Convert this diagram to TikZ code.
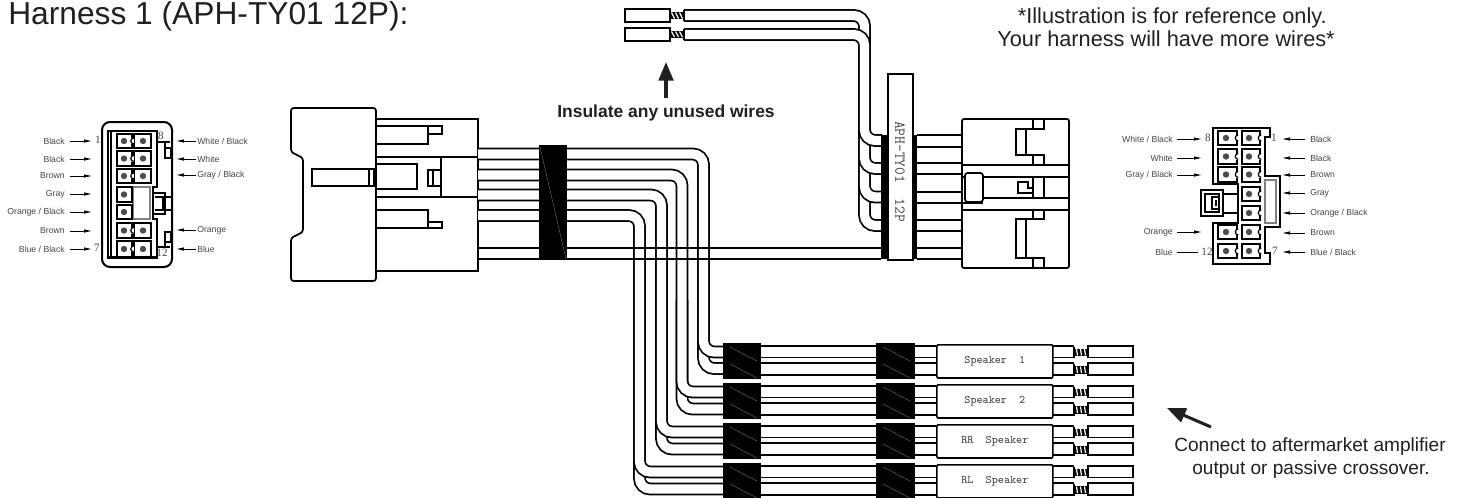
\documentclass[tikz,border=0pt]{standalone}
\usepackage{fontspec}
\setmainfont{Liberation Sans}
\newfontfamily\serifnum{Liberation Serif}
\usetikzlibrary{arrows.meta}
\definecolor{ink}{HTML}{231F20}
\definecolor{soft}{HTML}{444444}
\tikzset{
  ln/.style={line width=1.25pt,draw=black},
  thn/.style={line width=.9pt,draw=black},
  wire/.style={line width=1.3pt,double=white,double distance=6.95pt,rounded corners=8pt,draw=black},
  shrink/.style={fill=black,draw=none},
  seam/.style={line width=.25pt,draw=gray},
  lab/.style={font=\fontsize{6.5}{8}\selectfont,text=soft,inner sep=0pt},
  num/.style={font=\serifnum\fontsize{8.4}{9}\selectfont,text=soft,inner sep=0pt},
  mono/.style={font=\ttfamily\fontsize{8.7}{10}\selectfont,text=soft,inner sep=0pt},
  big/.style={text=ink,inner sep=0pt},
  parr/.style={line width=.55pt,draw=black,-{Latex[length=6pt,width=2.6pt]}},
  bigarr/.style={line width=2.3pt,draw=ink,-{Triangle[length=14pt,width=11pt]}}
}
\newcommand{\pinbox}[4]{\draw[ln,fill=white] (#1,#2) rectangle (#3,#4);}
\newcommand{\pindot}[2]{\fill[black!70] (#1,{#2}) circle (2.4pt);}
\newcommand{\pinnotch}[2]{\fill[white] (#1-1.5,{#2-3}) rectangle (#1+1.5,{#2+3});\draw[thn] (#1+1.2,{#2-3}) arc (90:270:2.2pt and 2.2pt);}
\newcommand{\barestrip}[4]{% x0 ytop ybot slant
  \fill[black] (#1,#2) rectangle (#1+14,#3);
  \foreach \s in {2,6,10}{\draw[line width=.9pt,white] (#1+\s+#4,#2+.5) -- (#1+\s+2-#4,#3-.5);}
  \draw[line width=1.3pt] (#1,#2-2) -- (#1,#3+2) (#1+14,#2-2) -- (#1+14,#3+2);
}
\newcommand{\lableft}[3]{\node[lab,anchor=east] (#1) at (65,#2) {#3};
  \coordinate (#1t) at (92,#2); \draw[parr,shorten <=3.6pt] (#1.east) -- (#1t);}
\newcommand{\labright}[3]{\node[lab,anchor=west] (#1) at (197,#2) {#3};
  \coordinate (#1t) at (176,#2); \draw[parr,shorten <=1pt] (#1.west) -- (#1t);}
\newcommand{\rlableft}[3]{\node[lab,anchor=east] (#1) at (1173,#2) {#3};
  \coordinate (#1t) at (1202,#2); \draw[parr,shorten <=3pt] (#1.east) -- (#1t);}
\newcommand{\rlabright}[3]{\node[lab,anchor=west] (#1) at (1310,#2) {#3};
  \coordinate (#1t) at (1282,#2); \draw[parr,shorten <=3.6pt] (#1.west) -- (#1t);}
\begin{document}
\begin{tikzpicture}[x=.75pt,y=-.75pt]
\useasboundingbox (0,0) rectangle (1461,497);
% ---- texts
\node[big,anchor=base west,font=\fontsize{23.8}{26}\selectfont] (title) at (8,24) {Harness 1 (APH-TY01 12P):};
\node[big,anchor=base east,font=\fontsize{16.3}{18}\selectfont] (note1) at (1327,23) {*Illustration is for reference only.};
\node[big,anchor=base east,font=\fontsize{16.3}{18}\selectfont] (note2) at (1335,46) {Your harness will have more wires*};
\node[big,anchor=base west,font=\bfseries\fontsize{13.1}{15}\selectfont] (insul) at (557,117) {Insulate any unused wires};
\node[big,anchor=base,font=\fontsize{14.3}{16}\selectfont] (conn1) at (1310,451) {Connect to aftermarket amplifier};
\node[big,anchor=base,font=\fontsize{14.3}{16}\selectfont] (conn2) at (1311,474) {output or passive crossover.};
\coordinate (upt) at (666,62); \coordinate (upb) at (666,98);
\draw[bigarr] (upb) -- (upt);
\coordinate (dgt) at (1167,408); \coordinate (dgb) at (1211,427);
\draw[bigarr] (dgb) -- (dgt);
% ---- left pin view
\draw[line width=1.5pt,rounded corners=6pt] (102,122) rectangle (172,267);
\draw[line width=1.4pt] (108,131) -- (157,131) -- (157,187) -- (153,187) -- (153,219) -- (157,219) -- (157,258) -- (108,258) -- cycle;
\draw[line width=2pt] (111,131) -- (111,258);
\draw[line width=2pt] (108,257) -- (157,257);
\draw[thn,draw=gray] (133,187) rectangle (150,219);
\foreach \a/\b in {134/148,151/166,169/183,187/202,205/219,223/238,241/257}{\pinbox{117}{\a}{132}{\b}\pindot{124}{(\a+\b)/2}}
\foreach \a/\b in {134/148,151/166,169/183,223/238,241/257}{\pinbox{134}{\a}{151}{\b}\pindot{143}{(\a+\b)/2}\pinnotch{132.5}{(\a+\b)/2}}
\draw[thn] (157,142) -- (170,142) (165,142) -- (165,158) -- (171,158) -- (171,148) -- (165,148);
\draw[thn] (157,247) -- (170,247) (165,247) -- (165,232) -- (171,232) -- (171,242) -- (165,242);
\draw[thn] (153,193) -- (165,193) -- (165,214) -- (153,214) (155,197) -- (163,197) -- (163,210) -- (155,210) (165,197) -- (171,197) (165,210) -- (171,210);
\node[num] (ln1) at (98,140) {1}; \node[num] (ln7) at (97,248) {7};
\node[num] (ln8) at (161,136) {8}; \node[num] (ln12) at (162,253) {12};
\lableft{la}{141}{Black}\lableft{lb}{159}{Black}\lableft{lc}{176}{Brown}\lableft{ld}{194}{Gray}
\lableft{le}{212}{Orange / Black}\lableft{lf}{231}{Brown}\lableft{lg}{249}{Blue / Black}
\labright{lh}{141}{White / Black}\labright{li}{159}{White}\labright{lj}{175}{Gray / Black}
\labright{lk}{230}{Orange}\labright{ll}{249}{Blue}
% ---- main left connector
\draw[line width=1.3pt,rounded corners=2pt] (291,108) -- (376,108) -- (376,281) -- (291,281) -- (291,238) -- (303,232) -- (303,158) -- (291,152) -- cycle;
\draw[ln] (376,119) -- (478,119) -- (478,271) -- (376,271);
\draw[ln] (376,157) -- (478,157) (376,197) -- (478,197) (441,157) -- (441,197);
\draw[ln] (376,126) -- (428,126) -- (428,144) -- (376,144) (428,126) -- (442,126) -- (442,134) -- (428,134);
\draw[ln] (376,210) -- (428,210) -- (428,228) -- (376,228) (428,222) -- (442,222) -- (442,228) -- (428,228);
\draw[ln] (376,164) -- (417,164) -- (417,189) -- (376,189);
\draw[ln] (312,169) rectangle (374,186);
\draw[thn] (369,169) -- (369,186);
\draw[ln] (441,170) -- (428,170) -- (428,186) -- (441,186) (433,170) -- (433,186);
% ---- harness wires (deep ones first)
\draw[wire] (703.5,300) -- (703.5,368.5) -- (723,368.5);
\draw[wire] (478,154) -- (703.5,154) -- (703.5,352) -- (723,352);
\draw[wire] (682,300) -- (682,409) -- (723,409);
\draw[wire] (478,175) -- (682,175) -- (682,392) -- (723,392);
\draw[wire] (661.5,300) -- (661.5,449) -- (723,449);
\draw[wire] (478,195) -- (661.5,195) -- (661.5,432) -- (723,432);
\draw[wire] (639.5,300) -- (639.5,489) -- (723,489);
\draw[wire] (478,215.5) -- (639.5,215.5) -- (639.5,472) -- (723,472);
\draw[ln] (478,248) -- (881,248) (478,259) -- (881,259);
\fill[shrink] (539,145) rectangle (567,260);
\draw[seam] (540,147) -- (566,259);
% ---- speaker branches
\foreach \d/\tx [count=\i from 0] in {0/{Speaker\ \ 1},40/{Speaker\ \ 2},80/{RR\ \ Speaker},120/{RL\ \ Speaker}}{
  \foreach \yy in {346,357.5,363,375}{\draw[ln] (761,\yy+\d) -- (876,\yy+\d) (915,\yy+\d) -- (936,\yy+\d) (1052,\yy+\d) -- (1074,\yy+\d);}
  \fill[shrink] (723,343+\d) rectangle (761,378.5+\d);
  \fill[shrink] (876,343+\d) rectangle (915,378.5+\d);
  \foreach \xa in {730,883}{
    \draw[seam] (\xa,347+\d) -- (\xa+27,361+\d) (\xa,364+\d) -- (\xa+27,378+\d);}
  \node[draw=black,line width=1.3pt,fill=white,minimum width=87pt,minimum height=24.8pt,inner sep=0pt,anchor=north west,rounded corners=.8pt,mono] (spk\i) at (936,344+\d) {\tx};
  \barestrip{1074}{348.5+\d}{356+\d}{0.5}
  \barestrip{1074}{366+\d}{373.5+\d}{0.5}
  \draw[ln,fill=white] (1088,346+\d) rectangle (1133,357.5+\d);
  \draw[ln,fill=white] (1088,363+\d) rectangle (1133,375+\d);
}
% ---- unused wires at top
\draw[wire] (684,15.5) -- (864.5,15.5) -- (864.5,60);
\draw[wire] (684,34.5) -- (864.5,34.5) -- (864.5,120);
\draw[wire] (864.5,100) -- (864.5,225.5) -- (882,225.5);
\draw[wire] (864.5,100) -- (864.5,197) -- (882,197);
\draw[wire] (864.5,100) -- (864.5,168.5) -- (882,168.5);
\draw[wire] (864.5,100) -- (864.5,140.5) -- (882,140.5);
\barestrip{670}{12}{19}{-0.5}
\barestrip{670}{31}{37.5}{-0.5}
\draw[ln,fill=white] (625,9) rectangle (670,22);
\draw[ln,fill=white] (625,28) rectangle (670,41);
% ---- label strap
\fill[shrink] (881,135) rectangle (917,259);
\node[draw=black,line width=1.3pt,fill=white,minimum width=18.75pt,minimum height=139.5pt,inner sep=0pt,anchor=north west] (strap) at (887,73) {};
\node[rotate=-90,font=\ttfamily\fontsize{11.3}{12}\selectfont,text=soft,inner sep=0pt] (straplab) at (900,171.5) {APH-TY01\ \ 12P};
% ---- right main connector
\foreach \yy in {135,147,163,174,192,203,220,231,248,259}{\draw[ln] (917,\yy) -- (962,\yy);}
\draw[line width=1.3pt,rounded corners=1.5pt] (962,119) rectangle (1069,268);
\draw[ln] (962,165) -- (1069,165) (962,177) -- (1069,177) (983,198) -- (1069,198) (962,203) -- (965,203);
\draw[line width=1.5pt] (962,210) -- (1069,210);
\draw[ln] (983,203) -- (962,203);
\draw[line width=1.3pt,fill=white,rounded corners=2pt] (965,173) rectangle (983,202);
\draw[ln] (1033,119) -- (1033,129) -- (1016,129) -- (1016,155) -- (1033,155) -- (1033,165) (1044,119) -- (1044,129) -- (1033,129) (1026,129) -- (1026,155) (1033,155) -- (1044,155) -- (1044,165);
\draw[ln] (1033,210) -- (1033,219) -- (1016,219) -- (1016,258) -- (1033,258) -- (1033,268) (1044,210) -- (1044,219) -- (1033,219) (1026,219) -- (1026,258) (1033,258) -- (1044,258) -- (1044,268);
\draw[ln] (1033,177) -- (1033,198) (1044,177) -- (1044,198);
\draw[ln] (1033,193) -- (1018,193) -- (1018,182) -- (1028,182) -- (1028,188) -- (1033,188);
% ---- right pin view
\draw[line width=1.5pt] (1213,128) -- (1270,128) -- (1270,137) -- (1265,137) -- (1265,176) -- (1280,176) -- (1280,227) -- (1265,227) -- (1265,253) -- (1270,253) -- (1270,264) -- (1213,264) -- (1213,223) -- (1238,223) -- (1238,184) -- (1213,184) -- cycle;
\draw[thn,draw=gray] (1265,180) rectangle (1276,223);
\draw[line width=1.3pt] (1223,194) -- (1238,194) (1223,213) -- (1238,213);
\draw[line width=1.3pt] (1201,190) rectangle (1223,216);
\draw[thn] (1205,194) rectangle (1219,212);
\draw[line width=1.1pt] (1219,197) -- (1212,197) -- (1212,209) -- (1219,209) (1216,200) -- (1216,206);
\foreach \a/\b in {131/145,149/164,167/182,225/239,244/258}{\pinbox{1218}{\a}{1237}{\b}\pindot{1226}{(\a+\b)/2}\pinnotch{1237}{(\a+\b)/2}}
\foreach \a/\b in {131/145,149/164,167/182,187/201,206/220,225/239,244/258}{\pinbox{1242}{\a}{1260}{\b}\pindot{1249}{(\a+\b)/2}\pinnotch{1260}{(\a+\b)/2}}
\node[num] (rn8) at (1208,138) {8}; \node[num] (rn12) at (1207,252) {12};
\node[num] (rn1) at (1274,138) {1}; \node[num] (rn7) at (1275,251) {7};
\rlableft{ra}{139}{White / Black}\rlableft{rb}{158}{White}\rlableft{rc}{175}{Gray / Black}
\rlableft{rd}{232}{Orange}\node[lab,anchor=east] (re) at (1173,252) {Blue};
\coordinate (ret) at (1198,252); \draw[line width=.55pt,shorten <=3pt] (re.east) -- (ret);
\rlabright{rf}{139}{Black}\rlabright{rg}{158}{Black}\rlabright{rh}{175}{Brown}\rlabright{ri}{193}{Gray}
\rlabright{rj}{213}{Orange / Black}\rlabright{rk}{233}{Brown}\rlabright{rl}{252}{Blue / Black}
\end{tikzpicture}
\end{document}
